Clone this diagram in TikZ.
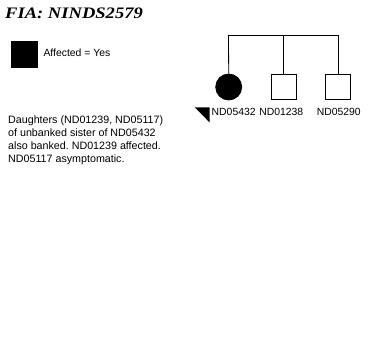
\documentclass[tikz,border=0pt]{standalone}
\usepackage{fontspec}
\setmainfont{Liberation Sans}
\newfontfamily\titlefont{Liberation Serif}
\frenchspacing
\begin{document}
\begin{tikzpicture}[x=1pt,y=-1pt,
  lbl/.style={font=\fontsize{10.4}{13}\selectfont, inner sep=0pt, anchor=base},
  person/.style={draw=black, line width=0.8pt, minimum size=25pt, inner sep=0pt},
  line/.style={draw=black, line width=0.8pt}]
\useasboundingbox (0,0) rectangle (375,339);
% title
\node[anchor=base west, inner sep=0pt] (title) at (5,18.7)
  {\scalebox{1.16}[1]{\titlefont\fontsize{16}{18}\selectfont\bfseries\itshape FIA: NINDS2579}};
% legend
\node[fill=black, minimum size=27pt, inner sep=0pt, anchor=north west] (legbox) at (11,41) {};
\node[lbl, anchor=base west] (legtxt) at (43.3,57) {Affected = Yes};
% note
\node[anchor=north west, inner sep=0pt, align=left, font=\fontsize{10.7}{13}\selectfont] (note) at (8,116)
  {Daughters (ND01239, ND05117)\\of unbanked sister of ND05432\\also banked. ND01239 affected.\\ND05117 asymptomatic.};
% sibship
\coordinate (sl) at (228.5,35);
\coordinate (sm) at (283.5,35);
\coordinate (sr) at (338,35);
\node[person, circle, fill=black, minimum size=26pt] (p1) at (228.7,87) {};
\node[person, rectangle] (p2) at (283.5,86.7) {};
\node[person, rectangle] (p3) at (338,86.7) {};
\draw[line] (sl) -- (sr);
\draw[line] (sl) -- (p1.north);
\draw[line] (sm) -- (p2.north);
\draw[line] (sr) -- (p3.north);
% labels
\node[lbl] (l1) at (233.7,115.3) {ND05432};
\node[lbl] (l2) at (281.3,115.3) {ND01238};
\node[lbl] (l3) at (338.8,115.3) {ND05290};
% proband arrow
\coordinate (t1) at (194.7,107.3);
\coordinate (t2) at (209.7,107.3);
\coordinate (t3) at (209.7,122.5);
\fill[black] (t1) -- (t2) -- (t3) -- cycle;
\end{tikzpicture}
\end{document}
